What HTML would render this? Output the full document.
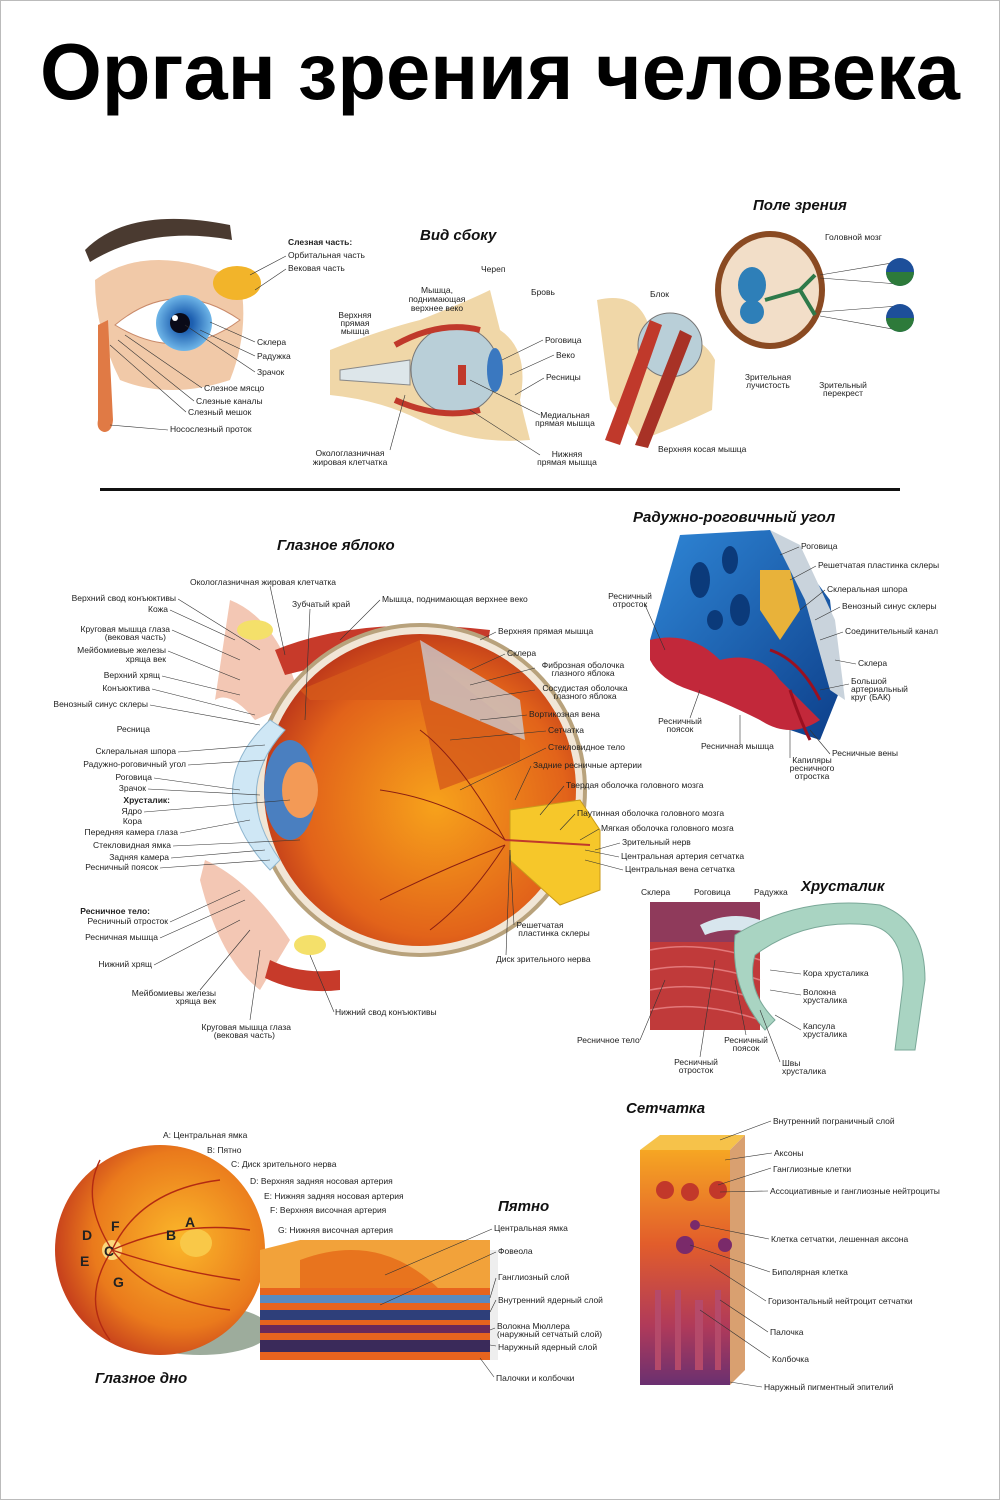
<!DOCTYPE html>
<html><head><meta charset="utf-8"><style>
html,body{margin:0;padding:0;background:#fff}
svg{display:block}
text{font-family:"Liberation Sans",sans-serif;font-size:8.5px;fill:#222}
.h{font-weight:bold;font-style:italic;font-size:15px;fill:#111}
.b{font-weight:bold}
.e{text-anchor:end}
.m{text-anchor:middle}
.L{font-weight:bold;font-size:14px;fill:#222}
line,polyline{stroke:#333;stroke-width:0.6;fill:none}
</style></head><body>
<svg width="1000" height="1500" viewBox="0 0 1000 1500" xmlns="http://www.w3.org/2000/svg">
<defs>
<radialGradient id="eye" cx="0.55" cy="0.55" r="0.6"><stop offset="0" stop-color="#f7a21b"/><stop offset="0.7" stop-color="#e2631a"/><stop offset="1" stop-color="#b8321a"/></radialGradient>
<radialGradient id="fund" cx="0.6" cy="0.45" r="0.6"><stop offset="0" stop-color="#fbb72a"/><stop offset="0.7" stop-color="#ea7a1c"/><stop offset="1" stop-color="#c8421c"/></radialGradient>
<radialGradient id="iris" cx="0.5" cy="0.5" r="0.5"><stop offset="0.3" stop-color="#1d5fb0"/><stop offset="1" stop-color="#6fb6e8"/></radialGradient>
<linearGradient id="ret" x1="0" y1="0" x2="0" y2="1"><stop offset="0" stop-color="#f6a623"/><stop offset="0.4" stop-color="#e25d2b"/><stop offset="0.75" stop-color="#b03a5a"/><stop offset="1" stop-color="#6a3070"/></linearGradient>
<linearGradient id="blue" x1="0" y1="0" x2="1" y2="1"><stop offset="0" stop-color="#2f86d6"/><stop offset="1" stop-color="#0d3f8a"/></linearGradient>
</defs>
<rect x="0.5" y="0.5" width="999" height="1499" fill="#fff" stroke="#bbb"/>
<text x="40" y="99" style="font-size:80px;font-weight:bold;fill:#000" textLength="920" lengthAdjust="spacingAndGlyphs">Орган зрения человека</text>

<text class="h" x="420" y="240">Вид сбоку</text>
<text class="h" x="753" y="210">Поле зрения</text>
<rect x="100" y="488" width="800" height="3" fill="#111"/>
<text class="h" x="633" y="522">Радужно-роговичный угол</text>
<text class="h" x="277" y="550">Глазное яблоко</text>
<text class="h" x="801" y="891">Хрусталик</text>
<text class="h" x="626" y="1113">Сетчатка</text>
<text class="h" x="498" y="1211">Пятно</text>
<text class="h" x="95" y="1383">Глазное дно</text>

<!-- top-left eye -->
<path d="M85,250 Q130,205 230,225 L232,240 Q150,225 90,262Z" fill="#4a3a30"/>
<path d="M95,280 Q150,240 240,280 Q250,330 230,380 Q170,400 120,380 Q95,330 95,280Z" fill="#f1c9a8"/>
<path d="M115,325 Q175,275 240,320 Q180,365 115,325Z" fill="#fff" stroke="#c98a6a"/>
<circle cx="184" cy="323" r="28" fill="url(#iris)"/>
<circle cx="180" cy="323" r="10" fill="#0a0a18"/>
<circle cx="175" cy="318" r="3" fill="#fff"/>
<ellipse cx="237" cy="283" rx="24" ry="17" fill="#f2b42a"/>
<path d="M98,325 L108,320 L113,420 Q112,432 104,432 Q96,430 98,420Z" fill="#e07a45"/>
<text class="b" x="288" y="245">Слезная часть:</text>
<text x="288" y="258">Орбитальная часть</text>
<text x="288" y="271">Вековая часть</text>
<text x="257" y="345">Склера</text>
<text x="257" y="359">Радужка</text>
<text x="257" y="375">Зрачок</text>
<text x="204" y="391">Слезное мясцо</text>
<text x="196" y="404">Слезные каналы</text>
<text x="188" y="415">Слезный мешок</text>
<text x="170" y="432">Носослезный проток</text>
<polyline points="286,256 250,275"/><polyline points="286,269 255,290"/>
<polyline points="255,342 210,322"/><polyline points="255,356 200,330"/><polyline points="255,372 185,325"/>
<polyline points="202,388 125,335"/><polyline points="194,401 118,340"/><polyline points="186,412 110,345"/><polyline points="168,430 110,425"/>

<!-- side view -->
<path d="M330,350 Q380,330 420,320 Q470,300 490,290 L500,330 Q530,350 520,400 L530,440 Q470,445 420,420 Q380,400 330,395Z" fill="#f0d7a8"/>
<circle cx="455" cy="370" r="44" fill="#b9cfd8" stroke="#777"/>
<path d="M340,370 L410,360 L410,385 L340,380Z" fill="#dde6ea" stroke="#888"/>
<path d="M395,345 Q440,320 480,330" stroke="#c0392b" stroke-width="6" fill="none"/>
<path d="M395,400 Q440,420 480,410" stroke="#c0392b" stroke-width="6" fill="none"/>
<ellipse cx="495" cy="370" rx="8" ry="22" fill="#3a78c0"/>
<rect x="458" y="365" width="8" height="20" fill="#c0392b"/>
<text x="481" y="272">Череп</text>
<text x="531" y="295">Бровь</text>
<text class="m" x="437" y="293">Мышца,</text><text class="m" x="437" y="302">поднимающая</text><text class="m" x="437" y="311">верхнее веко</text>
<text class="m" x="355" y="318">Верхняя</text><text class="m" x="355" y="326">прямая</text><text class="m" x="355" y="334">мышца</text>
<text x="545" y="343">Роговица</text>
<text x="556" y="358">Веко</text>
<text x="546" y="380">Ресницы</text>
<text class="m" x="565" y="418">Медиальная</text><text class="m" x="565" y="426">прямая мышца</text>
<text class="m" x="567" y="457">Нижняя</text><text class="m" x="567" y="465">прямая мышца</text>
<text class="m" x="350" y="456">Окологлазничная</text><text class="m" x="350" y="465">жировая клетчатка</text>
<polyline points="543,340 502,360"/><polyline points="554,355 510,375"/><polyline points="544,378 515,395"/>
<polyline points="540,415 470,380"/><polyline points="540,455 470,410"/><polyline points="390,450 405,395"/>
<path d="M597,300 Q640,290 650,330 Q700,330 715,360 L712,410 Q670,430 640,440 L610,400Z" fill="#f0d7a8"/>
<circle cx="670" cy="345" r="32" fill="#b9cfd8" stroke="#777"/>
<path d="M605,440 L650,320 L662,325 L620,445Z" fill="#c0392b"/>
<path d="M635,445 L680,330 L692,336 L648,448Z" fill="#a83226"/>
<text x="650" y="297">Блок</text>
<text x="658" y="452">Верхняя косая мышца</text>
<ellipse cx="770" cy="290" rx="52" ry="56" fill="#f2dec8" stroke="#8a4a22" stroke-width="6"/>
<ellipse cx="752" cy="285" rx="14" ry="18" fill="#2e7fb8"/>
<ellipse cx="752" cy="312" rx="12" ry="12" fill="#2e7fb8"/>
<path d="M765,300 L800,290 L815,275 M800,290 L815,315" stroke="#2e7a4a" stroke-width="4" fill="none"/>
<polyline points="820,275 898,262"/><polyline points="820,278 898,284"/>
<polyline points="820,312 898,306"/><polyline points="820,316 898,330"/>
<circle cx="900" cy="272" r="14" fill="#1d4f9a"/><path d="M886,272 A14,14 0 0 0 914,272Z" fill="#2d7a3a"/>
<circle cx="900" cy="318" r="14" fill="#1d4f9a"/><path d="M886,318 A14,14 0 0 0 914,318Z" fill="#2d7a3a"/>
<text x="825" y="240">Головной мозг</text>
<text class="m" x="768" y="380">Зрительная</text><text class="m" x="768" y="388">лучистость</text>
<text class="m" x="843" y="388">Зрительный</text><text class="m" x="843" y="396">перекрест</text>

<!-- eyeball -->
<path d="M230,600 Q280,620 300,700 L255,720 Q230,690 215,700Z" fill="#f3c7b4"/>
<path d="M205,860 Q250,880 290,940 L260,990 Q220,960 200,880Z" fill="#f3c7b4"/>
<path d="M275,650 Q360,615 490,630 L485,660 Q380,650 285,675Z" fill="#c73a2a"/>
<path d="M270,960 Q300,975 340,970 L340,990 Q300,995 265,978Z" fill="#c73a2a"/>
<circle cx="420" cy="790" r="165" fill="#f1e6d6" stroke="#b8a27c" stroke-width="4"/>
<circle cx="420" cy="790" r="156" fill="url(#eye)"/>
<path d="M300,690 L420,640 L430,660 L520,730 L520,760 L440,790 L420,700 L310,700Z" fill="#d65a1a" opacity="0.8"/>
<path d="M420,640 L520,700 L525,740 L430,700Z" fill="#c9d7e6" opacity="0.7"/>
<path d="M270,720 Q195,790 270,870 L280,860 Q230,790 285,730Z" fill="#cfe7f5" stroke="#8fb6cf"/>
<ellipse cx="290" cy="790" rx="26" ry="50" fill="#4a7fc0"/>
<ellipse cx="300" cy="790" rx="18" ry="28" fill="#f39a56"/>
<path d="M510,810 L580,800 L600,830 L600,890 L560,905 L510,860Z" fill="#f6c72a" stroke="#c99a1a"/>
<path d="M505,840 L590,845" stroke="#c0392b" stroke-width="2"/>
<ellipse cx="255" cy="630" rx="18" ry="10" fill="#f4e06a"/>
<ellipse cx="310" cy="945" rx="16" ry="10" fill="#f4e06a"/>
<g stroke="#8a1e12" stroke-width="1" fill="none"><path d="M505,840 Q450,800 380,790"/><path d="M505,845 Q440,870 380,900"/><path d="M505,840 Q460,760 420,730"/><path d="M505,845 Q470,900 430,930"/></g>
<text x="190" y="585">Окологлазничная жировая клетчатка</text>
<text x="292" y="607">Зубчатый край</text>
<text x="382" y="602">Мышца, поднимающая верхнее веко</text>
<text x="498" y="634">Верхняя прямая мышца</text>
<text x="507" y="656">Склера</text>
<text class="m" x="583" y="668">Фиброзная оболочка</text><text class="m" x="583" y="676">глазного яблока</text>
<text class="m" x="585" y="691">Сосудистая оболочка</text><text class="m" x="585" y="699">глазного яблока</text>
<text x="529" y="717">Вортикозная вена</text>
<text x="548" y="733">Сетчатка</text>
<text x="548" y="750">Стекловидное тело</text>
<text x="533" y="768">Задние ресничные артерии</text>
<text x="566" y="788">Твердая оболочка головного мозга</text>
<text x="577" y="816">Паутинная оболочка головного мозга</text>
<text x="601" y="831">Мягкая оболочка головного мозга</text>
<text x="622" y="845">Зрительный нерв</text>
<text x="621" y="859">Центральная артерия сетчатка</text>
<text x="625" y="872">Центральная вена сетчатка</text>
<text class="m" x="540" y="928">Решетчатая</text><text class="m" x="554" y="936">пластинка склеры</text>
<text x="496" y="962">Диск зрительного нерва</text>
<text x="335" y="1015">Нижний свод конъюктивы</text>
<text class="e" x="176" y="601">Верхний свод конъюктивы</text>
<text class="e" x="168" y="612">Кожа</text>
<text class="e" x="170" y="632">Круговая мышца глаза</text><text class="e" x="166" y="640">(вековая часть)</text>
<text class="e" x="166" y="653">Мейбомиевые железы</text><text class="e" x="166" y="662">хряща век</text>
<text class="e" x="160" y="678">Верхний хрящ</text>
<text class="e" x="150" y="691">Конъюктива</text>
<text class="e" x="148" y="707">Венозный синус склеры</text>
<text class="e" x="150" y="732">Ресница</text>
<text class="e" x="176" y="754">Склеральная шпора</text>
<text class="e" x="186" y="767">Радужно-роговичный угол</text>
<text class="e" x="152" y="780">Роговица</text>
<text class="e" x="146" y="791">Зрачок</text>
<text class="e b" x="170" y="803">Хрусталик:</text>
<text class="e" x="142" y="814">Ядро</text>
<text class="e" x="142" y="824">Кора</text>
<text class="e" x="178" y="835">Передняя камера глаза</text>
<text class="e" x="171" y="848">Стекловидная ямка</text>
<text class="e" x="169" y="860">Задняя камера</text>
<text class="e" x="158" y="870">Ресничный поясок</text>
<text class="e b" x="150" y="914">Ресничное тело:</text>
<text class="e" x="168" y="924">Ресничный отросток</text>
<text class="e" x="158" y="940">Ресничная мышца</text>
<text class="e" x="152" y="967">Нижний хрящ</text>
<text class="e" x="216" y="996">Мейбомиевы железы</text><text class="e" x="216" y="1004">хряща век</text>
<text class="e" x="291" y="1030">Круговая мышца глаза</text><text class="e" x="275" y="1038">(вековая часть)</text>
<g>
<polyline points="178,599 260,650"/><polyline points="170,610 235,640"/><polyline points="172,630 240,660"/><polyline points="168,651 240,680"/><polyline points="162,676 240,695"/><polyline points="152,689 255,715"/><polyline points="150,705 260,725"/><polyline points="178,752 265,745"/><polyline points="188,765 265,760"/><polyline points="154,778 240,790"/><polyline points="148,789 260,795"/><polyline points="144,812 290,800"/><polyline points="180,833 250,820"/><polyline points="173,846 300,840"/><polyline points="171,858 265,850"/><polyline points="160,868 270,860"/><polyline points="170,922 240,890"/><polyline points="160,938 245,900"/><polyline points="154,965 240,920"/><polyline points="200,990 250,930"/><polyline points="250,1020 260,950"/><polyline points="334,1012 310,955"/>
<polyline points="270,586 285,655"/><polyline points="310,609 305,720"/><polyline points="380,600 340,640"/><polyline points="496,632 480,640"/><polyline points="505,654 470,670"/><polyline points="535,668 470,685"/><polyline points="535,690 470,700"/><polyline points="527,715 480,720"/><polyline points="546,731 450,740"/><polyline points="546,748 460,790"/><polyline points="531,766 515,800"/><polyline points="564,786 540,815"/><polyline points="575,814 560,830"/><polyline points="599,829 580,840"/><polyline points="620,843 595,850"/><polyline points="619,857 585,850"/><polyline points="623,870 585,860"/><polyline points="514,925 510,850"/><polyline points="506,955 510,850"/>
</g>

<!-- iris-corneal angle -->
<path d="M680,535 L770,530 L800,560 L830,600 L840,690 L820,740 L760,720 L700,680 L650,640Z" fill="url(#blue)"/>
<path d="M770,530 L800,545 L835,620 L845,700 L830,690 L805,600Z" fill="#c9d3dc"/>
<path d="M760,570 L790,570 L800,610 L780,640 L760,610Z" fill="#e8b23a"/>
<g fill="#0b3a7a"><ellipse cx="700" cy="580" rx="10" ry="18"/><ellipse cx="730" cy="560" rx="8" ry="14"/><ellipse cx="740" cy="610" rx="10" ry="16"/><ellipse cx="715" cy="620" rx="8" ry="10"/></g>
<path d="M650,640 Q690,630 720,660 Q760,650 780,680 Q800,700 820,720 Q790,740 760,720 Q720,700 690,690 Q660,680 650,660Z" fill="#c2283a"/>
<g stroke="#9a1020" stroke-width="3" fill="none"><path d="M770,650 Q800,660 820,700"/><path d="M790,690 Q800,720 810,740"/></g>
<text x="801" y="549">Роговица</text>
<text x="818" y="568">Решетчатая пластинка склеры</text>
<text x="827" y="592">Склеральная шпора</text>
<text x="842" y="609">Венозный синус склеры</text>
<text x="845" y="634">Соединительный канал</text>
<text x="858" y="666">Склера</text>
<text x="851" y="684">Большой</text><text x="851" y="692">артериальный</text><text x="851" y="700">круг (БАК)</text>
<text x="832" y="756">Ресничные вены</text>
<text class="m" x="812" y="763">Капиляры</text><text class="m" x="812" y="771">ресничного</text><text class="m" x="812" y="779">отростка</text>
<text x="701" y="749">Ресничная мышца</text>
<text class="m" x="680" y="724">Ресничный</text><text class="m" x="680" y="732">поясок</text>
<text class="m" x="630" y="599">Ресничный</text><text class="m" x="630" y="607">отросток</text>
<polyline points="799,547 780,555"/><polyline points="816,566 790,580"/><polyline points="825,590 800,610"/><polyline points="840,607 815,620"/><polyline points="843,632 820,640"/><polyline points="856,664 835,660"/><polyline points="849,684 820,690"/><polyline points="830,754 810,730"/><polyline points="790,758 790,730"/><polyline points="740,745 740,715"/><polyline points="690,718 700,690"/><polyline points="645,605 665,650"/>

<!-- lens -->
<rect x="650" y="902" width="110" height="128" fill="#c03a3a"/>
<g stroke="#e2787a" stroke-width="1.5" fill="none"><path d="M650,950 Q700,940 760,960"/><path d="M650,970 Q700,960 760,980"/><path d="M650,990 Q700,980 760,1000"/><path d="M650,1010 Q700,1000 760,1020"/></g>
<rect x="650" y="902" width="110" height="40" fill="#7a3a6a" opacity="0.7"/>
<path d="M700,925 Q730,910 760,920 L760,935 Q730,925 705,935Z" fill="#d8e6ee"/>
<path d="M735,935 Q800,895 880,905 Q925,920 925,980 L915,1050 L895,1050 L903,985 Q905,932 870,925 Q805,918 755,955 Q745,990 775,1020 L765,1030 Q730,990 735,935Z" fill="#a9d4c2" stroke="#7aa898"/>
<text x="641" y="895">Склера</text><text x="694" y="895">Роговица</text><text x="754" y="895">Радужка</text>
<text x="803" y="976">Кора хрусталика</text>
<text x="803" y="995">Волокна</text><text x="803" y="1003">хрусталика</text>
<text x="803" y="1029">Капсула</text><text x="803" y="1037">хрусталика</text>
<text x="782" y="1066">Швы</text><text x="782" y="1074">хрусталика</text>
<text class="m" x="746" y="1043">Ресничный</text><text class="m" x="746" y="1051">поясок</text>
<text class="m" x="696" y="1065">Ресничный</text><text class="m" x="696" y="1073">отросток</text>
<text x="577" y="1043">Ресничное тело</text>
<polyline points="801,974 770,970"/><polyline points="801,995 770,990"/><polyline points="801,1030 775,1015"/><polyline points="780,1062 760,1010"/><polyline points="746,1035 735,980"/><polyline points="700,1057 715,960"/><polyline points="640,1040 665,980"/>

<!-- fundus -->
<ellipse cx="200" cy="1330" rx="70" ry="25" fill="#3c5a3a" opacity="0.5"/>
<circle cx="160" cy="1250" r="105" fill="url(#fund)"/>
<ellipse cx="196" cy="1243" rx="16" ry="14" fill="#f9c848"/>
<circle cx="112" cy="1250" r="10" fill="#fbd67a"/>
<g stroke="#b32a12" stroke-width="1.4" fill="none"><path d="M112,1250 Q140,1190 220,1180"/><path d="M112,1250 Q150,1300 230,1310"/><path d="M112,1250 Q80,1200 100,1160"/><path d="M112,1250 Q80,1300 110,1340"/><path d="M112,1250 Q180,1220 250,1230"/><path d="M112,1250 Q170,1270 240,1280"/></g>
<text class="L" x="82" y="1240">D</text><text class="L" x="111" y="1231">F</text><text class="L" x="166" y="1240">B</text><text class="L" x="185" y="1227">A</text><text class="L" x="104" y="1256">C</text><text class="L" x="80" y="1266">E</text><text class="L" x="113" y="1287">G</text>
<text x="163" y="1138">A: Центральная ямка</text>
<text x="207" y="1153">B: Пятно</text>
<text x="231" y="1167">C: Диск зрительного нерва</text>
<text x="250" y="1184">D: Верхняя задняя носовая артерия</text>
<text x="264" y="1199">E: Нижняя задняя носовая артерия</text>
<text x="270" y="1213">F: Верхняя височная артерия</text>
<text x="278" y="1233">G: Нижняя височная артерия</text>
<path d="M260,1250 L300,1240 L490,1240 L490,1290 L260,1290Z" fill="#f2a23a"/>
<path d="M300,1260 Q380,1230 440,1290 L380,1305 Q340,1295 300,1290Z" fill="#e8741e"/>
<rect x="260" y="1288" width="230" height="72" fill="#e8641e"/>
<rect x="260" y="1295" width="230" height="8" fill="#5a8ac0"/>
<rect x="260" y="1310" width="230" height="10" fill="#2e3f7a"/>
<rect x="260" y="1325" width="230" height="8" fill="#6a2a5a"/>
<rect x="260" y="1340" width="230" height="12" fill="#3a2a5a"/>
<rect x="490" y="1250" width="8" height="110" fill="#eee"/>
<text x="494" y="1231">Центральная ямка</text>
<text x="498" y="1254">Фовеола</text>
<text x="498" y="1280">Ганглиозный слой</text>
<text x="498" y="1303">Внутренний ядерный слой</text>
<text x="497" y="1329">Волокна Мюллера</text><text x="497" y="1337">(наружный сетчатый слой)</text>
<text x="498" y="1350">Наружный ядерный слой</text>
<text x="496" y="1381">Палочки и колбочки</text>
<polyline points="492,1229 385,1275"/><polyline points="496,1252 380,1305"/><polyline points="496,1278 490,1298"/><polyline points="496,1300 490,1312"/><polyline points="495,1328 490,1330"/><polyline points="496,1346 490,1345"/><polyline points="494,1377 480,1358"/>

<!-- retina -->
<path d="M640,1150 L660,1135 L745,1135 L730,1150Z" fill="#f6c24a"/>
<rect x="640" y="1150" width="90" height="235" fill="url(#ret)"/>
<path d="M730,1150 L745,1135 L745,1370 L730,1385Z" fill="#d9a070"/>
<g fill="#c2382a"><circle cx="665" cy="1190" r="9"/><circle cx="690" cy="1192" r="9"/><circle cx="718" cy="1190" r="9"/></g>
<g fill="#7a2a6a"><circle cx="685" cy="1245" r="9"/><circle cx="725" cy="1245" r="7"/><circle cx="695" cy="1225" r="5"/></g>
<g fill="#b54a6a"><rect x="655" y="1290" width="6" height="80"/><rect x="675" y="1290" width="6" height="80"/><rect x="695" y="1300" width="8" height="70"/><rect x="715" y="1290" width="6" height="80"/></g>
<text x="773" y="1124">Внутренний пограничный слой</text>
<text x="774" y="1156">Аксоны</text>
<text x="773" y="1172">Ганглиозные клетки</text>
<text x="770" y="1194">Ассоциативные и ганглиозные нейтроциты</text>
<text x="771" y="1242">Клетка сетчатки, лешенная аксона</text>
<text x="772" y="1275">Биполярная клетка</text>
<text x="768" y="1304">Горизонтальный нейтроцит сетчатки</text>
<text x="770" y="1335">Палочка</text>
<text x="772" y="1362">Колбочка</text>
<text x="764" y="1390">Наружный пигментный эпителий</text>
<polyline points="771,1121 720,1140"/><polyline points="772,1153 725,1160"/><polyline points="771,1168 718,1185"/><polyline points="768,1191 720,1192"/><polyline points="769,1239 700,1225"/><polyline points="770,1272 690,1245"/><polyline points="766,1301 710,1265"/><polyline points="768,1332 720,1300"/><polyline points="770,1358 700,1310"/><polyline points="762,1387 730,1382"/>
</svg>
</body></html>
